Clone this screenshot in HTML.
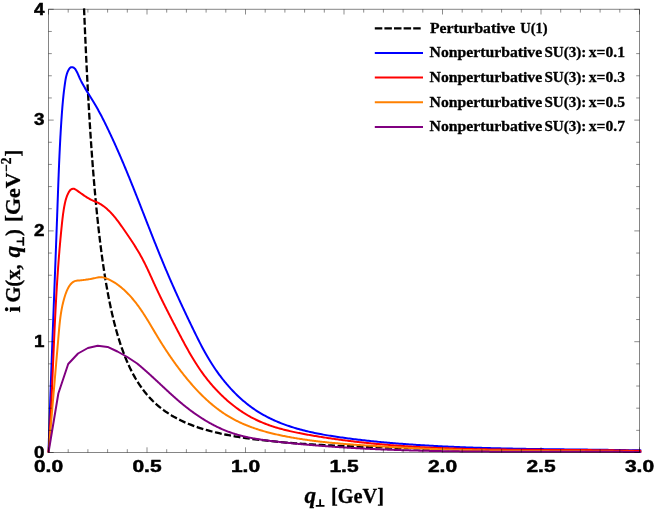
<!DOCTYPE html>
<html lang="en">
<head>
<meta charset="utf-8">
<title>i G(x, q⊥) plot</title>
<style>
html,body{margin:0;padding:0;background:#fff;}
body{width:654px;height:510px;overflow:hidden;}
svg{display:block;will-change:transform;}
text{fill:#000;}
.tick{font-family:"Liberation Sans",sans-serif;font-weight:bold;font-size:17.3px;stroke:#000;stroke-width:0.5px;stroke-linejoin:round;}
.leg{font-family:"Liberation Serif",serif;font-weight:bold;font-size:15px;stroke:#000;stroke-width:0.3px;}
.ax{font-family:"Liberation Serif",serif;font-weight:bold;font-size:20.6px;stroke:#000;stroke-width:0.3px;}
.it{font-style:italic;font-size:23.2px;}
.sup{font-size:14.5px;}
</style>
</head>
<body>
<svg width="654" height="510" viewBox="0 0 654 510" role="img" aria-label="Plot of i G(x, q⊥) versus q⊥">
<rect x="0" y="0" width="654" height="510" fill="#fff"/>
<g fill="none" stroke-linejoin="round" stroke-linecap="butt">
<path d="M84.05,8.40 L84.32,15.23 L84.60,21.90 L84.88,28.42 L85.15,34.79 L85.43,41.02 L85.71,47.11 L85.98,53.07 L86.26,58.90 L86.53,64.60 L86.81,70.18 L87.09,75.63 L87.36,80.98 L87.64,86.20 L87.92,91.32 L88.19,96.34 L88.47,101.25 L88.75,106.06 L89.02,110.77 L89.30,115.38 L89.58,119.90 L89.85,124.34 L90.13,128.68 L90.40,132.94 L90.68,137.11 L90.96,141.21 L91.23,145.22 L91.51,149.16 L91.79,153.02 L92.06,156.81 L92.34,160.53 L92.62,164.17 L92.89,167.75 L93.17,171.27 L93.45,174.71 L93.72,178.10 L94.00,181.42 L94.27,184.69 L94.55,187.89 L94.83,191.04 L95.10,194.13 L95.38,197.17 L95.66,200.16 L95.93,203.09 L96.21,205.97 L96.49,208.80 L96.76,211.59 L97.04,214.32 L97.32,217.01 L97.59,219.66 L97.87,222.26 L98.14,224.82 L98.42,227.33 L98.70,229.80 L98.97,232.24 L99.25,234.63 L99.53,236.98 L99.80,239.30 L100.08,241.58 L100.36,243.82 L100.63,246.03 L100.91,248.20 L101.19,250.34 L101.46,252.44 L101.74,254.52 L102.01,256.56 L102.29,258.56 L102.57,260.54 L102.84,262.49 L103.12,264.41 L103.40,266.30 L103.67,268.16 L103.95,269.99 L104.23,271.80 L104.50,273.58 L104.78,275.33 L105.06,277.06 L105.33,278.76 L105.61,280.44 L105.88,282.09 L106.16,283.72 L106.44,285.33 L106.71,286.91 L106.99,288.48 L107.27,290.01 L107.54,291.53 L107.82,293.03 L108.10,294.51 L108.37,295.96 L108.65,297.40 L108.93,298.81 L109.20,300.21 L109.48,301.59 L109.76,302.95 L110.03,304.29 L110.31,305.61 L110.58,306.91 L110.86,308.20 L111.14,309.47 L111.41,310.73 L111.69,311.96 L111.97,313.19 L112.24,314.39 L112.52,315.58 L112.80,316.76 L113.07,317.92 L113.35,319.06 L113.63,320.19 L113.90,321.31 L114.18,322.41 L114.45,323.50 L114.73,324.57 L115.01,325.63 L115.28,326.68 L115.56,327.72 L115.84,328.74 L116.11,329.75 L116.39,330.75 L116.67,331.73 L116.94,332.71 L117.22,333.67 L117.50,334.62 L117.77,335.56 L118.05,336.49 L118.32,337.40 L118.60,338.31 L118.88,339.20 L119.15,340.09 L119.43,340.96 L119.71,341.83 L119.98,342.68 L120.26,343.53 L120.54,344.36 L120.81,345.19 L121.09,346.00 L121.37,346.81 L121.64,347.61 L121.92,348.39 L122.19,349.17 L122.47,349.94 L122.75,350.71 L123.02,351.46 L123.30,352.21 L123.58,352.94 L123.85,353.67 L124.13,354.39 L124.41,355.11 L124.68,355.81 L124.96,356.51 L125.24,357.20 L125.51,357.88 L125.79,358.56 L126.06,359.23 L126.34,359.89 L126.62,360.54 L126.89,361.19 L127.17,361.83 L127.45,362.46 L127.72,363.09 L128.00,363.71 L128.28,364.33 L128.55,364.93 L128.83,365.54 L129.11,366.13 L129.38,366.72 L129.66,367.30 L129.93,367.88 L130.21,368.45 L130.49,369.02 L130.76,369.58 L131.04,370.13 L131.32,370.68 L131.59,371.23 L131.87,371.76 L132.15,372.30 L132.42,372.82 L132.70,373.35 L132.98,373.86 L133.25,374.38 L133.53,374.88 L133.80,375.39 L134.08,375.88 L134.36,376.38 L134.63,376.86 L134.91,377.35 L135.19,377.82 L135.46,378.30 L135.74,378.77 L136.02,379.23 L136.29,379.69 L136.57,380.15 L136.85,380.60 L137.12,381.05 L137.40,381.49 L137.67,381.93 L137.95,382.37 L138.23,382.80 L138.50,383.23 L138.78,383.65 L139.06,384.07 L139.33,384.49 L139.61,384.90 L139.89,385.31 L140.16,385.71 L140.44,386.11 L140.72,386.51 L140.99,386.90 L141.27,387.29 L141.54,387.68 L141.82,388.06 L142.10,388.44 L142.37,388.82 L142.65,389.19 L142.93,389.57 L143.20,389.93 L143.48,390.30 L143.76,390.66 L144.03,391.01 L144.31,391.37 L144.59,391.72 L144.86,392.07 L145.14,392.41 L145.41,392.75 L145.69,393.09 L145.97,393.43 L146.24,393.76 L146.52,394.10 L146.80,394.42 L147.07,394.75 L147.35,395.07 L147.63,395.39 L147.90,395.71 L148.18,396.02 L148.46,396.33 L148.73,396.64 L149.01,396.95 L149.28,397.26 L149.56,397.56 L149.84,397.86 L150.11,398.15 L150.39,398.45 L150.67,398.74 L150.94,399.03 L151.22,399.32 L151.50,399.60 L151.77,399.88 L152.05,400.17 L152.33,400.44 L152.60,400.72 L152.88,400.99 L153.15,401.27 L153.43,401.53 L153.71,401.80 L153.98,402.07 L154.26,402.33 L154.54,402.59 L154.81,402.85 L155.09,403.11 L155.37,403.36 L155.64,403.62 L155.92,403.87 L156.20,404.12 L156.47,404.37 L156.75,404.61 L157.02,404.85 L157.30,405.10 L157.58,405.34 L157.85,405.57 L158.13,405.81 L158.41,406.05 L158.68,406.28 L158.96,406.51 L159.24,406.74 L159.51,406.97 L159.79,407.19 L160.07,407.42 L160.34,407.64 L160.62,407.86 L160.89,408.08 L161.17,408.30 L161.45,408.51 L161.72,408.73 L162.00,408.94 L162.28,409.15 L162.55,409.36 L162.83,409.57 L163.11,409.78 L163.38,409.98 L163.66,410.19 L163.94,410.39 L164.21,410.59 L164.49,410.79 L164.76,410.99 L165.04,411.18 L165.32,411.38 L165.59,411.57 L165.87,411.77 L166.15,411.96 L166.42,412.15 L166.70,412.33 L169.08,413.91 L171.47,415.39 L173.85,416.79 L176.24,418.11 L178.62,419.36 L181.01,420.54 L183.39,421.66 L185.78,422.72 L188.16,423.73 L190.55,424.69 L192.93,425.60 L195.32,426.47 L197.70,427.29 L200.09,428.08 L202.47,428.83 L204.86,429.55 L207.24,430.23 L209.63,430.89 L212.01,431.51 L214.40,432.11 L216.78,432.68 L219.17,433.23 L221.55,433.76 L223.94,434.27 L226.32,434.75 L228.71,435.22 L231.09,435.67 L233.48,436.10 L235.86,436.51 L238.25,436.91 L240.63,437.30 L243.02,437.67 L245.40,438.03 L247.79,438.37 L250.17,438.70 L252.56,439.02 L254.94,439.33 L257.33,439.63 L259.71,439.92 L262.10,440.20 L264.48,440.47 L266.87,440.73 L269.25,440.98 L271.64,441.23 L274.02,441.47 L276.41,441.70 L278.79,441.92 L281.18,442.13 L283.56,442.34 L285.95,442.55 L288.33,442.74 L290.72,442.94 L293.10,443.12 L295.49,443.30 L297.87,443.48 L300.26,443.65 L302.64,443.81 L305.03,443.97 L307.41,444.13 L309.80,444.28 L312.18,444.43 L314.57,444.57 L316.95,444.71 L319.34,444.85 L321.72,444.98 L324.11,445.11 L326.49,445.24 L328.87,445.36 L331.26,445.48 L333.64,445.60 L336.03,445.71 L338.41,445.82 L340.80,445.93 L343.18,446.04 L345.57,446.14 L347.95,446.24 L350.34,446.34 L352.72,446.44 L355.11,446.53 L357.49,446.62 L359.88,446.71 L362.26,446.80 L364.65,446.89 L367.03,446.97 L369.42,447.05 L371.80,447.13 L374.19,447.21 L376.57,447.29 L378.96,447.36 L381.34,447.43 L383.73,447.51 L386.11,447.58 L388.50,447.65 L390.88,447.71 L393.27,447.78 L395.65,447.84 L398.04,447.91 L400.42,447.97 L402.81,448.03 L405.19,448.09 L407.58,448.15 L409.96,448.21 L412.35,448.26 L414.73,448.32 L417.12,448.37 L419.50,448.42 L421.89,448.48 L424.27,448.53 L426.66,448.58 L429.04,448.62 L431.43,448.67 L433.81,448.72 L436.20,448.77 L438.58,448.81 L440.97,448.86 L443.35,448.90 L445.74,448.94 L448.12,448.99 L450.51,449.03 L452.89,449.07 L455.28,449.11 L457.66,449.15 L460.05,449.19 L462.43,449.22 L464.82,449.26 L467.20,449.30 L469.59,449.34 L471.97,449.37 L474.36,449.41 L476.74,449.44 L479.13,449.47 L481.51,449.51 L483.89,449.54 L486.28,449.57 L488.66,449.60 L491.05,449.63 L493.43,449.67 L495.82,449.70 L498.20,449.73 L500.59,449.75 L502.97,449.78 L505.36,449.81 L507.74,449.84 L510.13,449.87 L512.51,449.89 L514.90,449.92 L517.28,449.95 L519.67,449.97 L522.05,450.00 L524.44,450.02 L526.82,450.05 L529.21,450.07 L531.59,450.10 L533.98,450.12 L536.36,450.14 L538.75,450.17 L541.13,450.19 L543.52,450.21 L545.90,450.23 L548.29,450.25 L550.67,450.27 L553.06,450.30 L555.44,450.32 L557.83,450.34 L560.21,450.36 L562.60,450.38 L564.98,450.40 L567.37,450.42 L569.75,450.43 L572.14,450.45 L574.52,450.47 L576.91,450.49 L579.29,450.51 L581.68,450.53 L584.06,450.54 L586.45,450.56 L588.83,450.58 L591.22,450.59 L593.60,450.61 L595.99,450.63 L598.37,450.64 L600.76,450.66 L603.14,450.68 L605.53,450.69 L607.91,450.71 L610.30,450.72 L612.68,450.74 L615.07,450.75 L617.45,450.77 L619.84,450.78 L622.22,450.80 L624.61,450.81 L626.99,450.82 L629.38,450.84 L631.76,450.85 L634.15,450.86 L636.53,450.88 L638.92,450.89 L641.30,450.90" stroke="#000" stroke-width="2.3" stroke-dasharray="6.9 2.6"/>
<path d="M48.50,452.50 L48.55,451.04 L48.59,449.57 L48.64,448.11 L48.68,446.64 L48.73,445.18 L48.78,443.71 L48.82,442.25 L48.87,440.78 L48.92,439.32 L48.97,437.85 L49.01,436.38 L49.06,434.92 L49.11,433.45 L49.16,431.99 L49.21,430.52 L49.26,429.06 L49.30,427.59 L49.35,426.12 L49.40,424.66 L49.45,423.19 L49.50,421.72 L49.55,420.26 L49.60,418.79 L49.65,417.32 L49.70,415.86 L49.75,414.39 L49.80,412.92 L49.85,411.46 L49.90,409.99 L49.95,408.52 L50.00,407.06 L50.06,405.59 L50.11,404.12 L50.16,402.66 L50.21,401.19 L50.26,399.72 L50.31,398.25 L50.36,396.79 L50.42,395.32 L50.47,393.85 L50.52,392.38 L50.57,390.92 L50.63,389.45 L50.68,387.98 L50.73,386.51 L50.78,385.04 L50.84,383.58 L50.89,382.11 L50.94,380.64 L51.00,379.17 L51.05,377.70 L51.10,376.24 L51.16,374.77 L51.21,373.30 L51.27,371.83 L51.32,370.36 L51.37,368.89 L51.43,367.43 L51.48,365.96 L51.54,364.49 L51.59,363.02 L51.64,361.55 L51.70,360.08 L51.75,358.61 L51.81,357.15 L51.86,355.68 L51.92,354.21 L51.97,352.74 L52.03,351.27 L52.08,349.80 L52.14,348.33 L52.19,346.87 L52.25,345.40 L52.30,343.93 L52.36,342.46 L52.41,340.99 L52.47,339.52 L52.53,338.05 L52.58,336.58 L52.64,335.12 L52.69,333.65 L52.75,332.18 L52.80,330.71 L52.86,329.24 L52.92,327.77 L52.97,326.30 L53.03,324.83 L53.08,323.37 L53.14,321.90 L53.20,320.43 L53.25,318.96 L53.31,317.49 L53.36,316.02 L53.42,314.55 L53.48,313.08 L53.53,311.61 L53.59,310.15 L53.64,308.68 L53.70,307.21 L53.76,305.74 L53.81,304.27 L53.87,302.80 L53.93,301.33 L53.98,299.87 L54.04,298.40 L54.09,296.93 L54.15,295.46 L54.21,293.99 L54.26,292.52 L54.32,291.05 L54.38,289.59 L54.43,288.12 L54.49,286.65 L54.54,285.18 L54.60,283.71 L54.66,282.24 L54.71,280.78 L54.77,279.31 L54.83,277.84 L54.88,276.37 L54.94,274.90 L54.99,273.43 L55.05,271.97 L55.11,270.50 L55.16,269.03 L55.22,267.56 L55.27,266.10 L55.33,264.63 L55.39,263.16 L55.44,261.69 L55.50,260.22 L55.55,258.76 L55.61,257.29 L55.66,255.82 L55.72,254.35 L55.77,252.89 L55.83,251.42 L55.89,249.95 L55.94,248.49 L56.00,247.02 L56.05,245.55 L56.11,244.08 L56.16,242.62 L56.22,241.15 L56.27,239.68 L56.33,238.22 L56.38,236.75 L56.43,235.28 L56.49,233.82 L56.54,232.35 L56.60,230.88 L56.65,229.42 L56.71,227.95 L56.76,226.49 L56.82,225.02 L56.87,223.55 L56.92,222.09 L56.98,220.62 L57.03,219.16 L57.08,217.69 L57.14,216.23 L57.19,214.76 L57.24,213.29 L57.30,211.83 L57.35,210.36 L57.40,208.90 L57.46,207.43 L57.51,205.97 L57.56,204.50 L57.61,203.04 L57.67,201.58 L57.72,200.11 L57.77,198.65 L57.82,197.18 L57.88,195.72 L57.93,194.25 L57.98,192.79 L58.03,191.33 L58.09,189.86 L58.14,188.40 L58.19,186.93 L58.25,185.47 L58.30,184.01 L58.36,182.54 L58.41,181.08 L58.47,179.61 L58.52,178.15 L58.58,176.69 L58.64,175.22 L58.69,173.76 L58.75,172.30 L58.81,170.83 L58.87,169.37 L58.93,167.91 L58.99,166.44 L59.05,164.98 L59.11,163.51 L59.17,162.05 L59.24,160.59 L59.30,159.12 L59.37,157.66 L59.43,156.20 L59.50,154.73 L59.57,153.27 L59.64,151.81 L59.71,150.34 L59.78,148.88 L59.85,147.41 L59.92,145.95 L60.00,144.49 L60.07,143.02 L60.15,141.56 L60.22,140.09 L60.30,138.63 L60.38,137.17 L60.46,135.70 L60.55,134.24 L60.63,132.77 L60.72,131.31 L60.80,129.84 L60.89,128.38 L60.98,126.91 L61.07,125.45 L61.17,123.98 L61.26,122.52 L61.36,121.05 L61.45,119.59 L61.55,118.12 L61.66,116.66 L61.76,115.19 L61.86,113.73 L61.97,112.26 L62.08,110.79 L62.20,109.33 L62.31,107.86 L62.43,106.40 L62.56,104.93 L62.68,103.46 L62.82,101.99 L62.95,100.53 L63.09,99.06 L63.24,97.59 L63.39,96.13 L63.55,94.66 L63.71,93.19 L63.88,91.72 L64.06,90.25 L64.24,88.78 L64.43,87.32 L64.63,85.85 L64.83,84.38 L65.05,82.91 L65.27,81.44 L65.50,79.97 L65.76,78.51 L66.06,77.07 L66.40,75.63 L66.79,74.22 L67.25,72.83 L67.79,71.47 L68.41,70.14 L69.14,68.89 L70.02,67.86 L71.10,67.23 L72.44,67.19 L73.83,67.73 L74.94,68.69 L75.79,69.89 L76.53,71.18 L77.21,72.51 L77.84,73.87 L78.44,75.24 L79.03,76.61 L79.63,77.98 L80.26,79.33 L80.90,80.66 L81.57,81.97 L82.25,83.28 L82.95,84.57 L83.66,85.84 L84.39,87.11 L85.13,88.37 L85.88,89.62 L86.63,90.87 L87.40,92.11 L88.17,93.34 L88.94,94.58 L89.71,95.81 L90.49,97.04 L91.26,98.28 L92.03,99.51 L92.80,100.75 L93.56,102.00 L94.31,103.25 L95.06,104.51 L95.80,105.78 L96.53,107.05 L97.25,108.33 L97.97,109.61 L98.68,110.90 L99.38,112.19 L100.08,113.49 L100.77,114.79 L101.46,116.09 L102.14,117.40 L102.81,118.72 L103.48,120.03 L104.15,121.35 L104.81,122.67 L105.46,124.00 L106.11,125.33 L106.76,126.65 L107.40,127.98 L108.04,129.31 L108.68,130.65 L109.31,131.98 L109.94,133.31 L110.57,134.65 L111.19,135.98 L111.81,137.32 L112.43,138.66 L113.05,139.99 L113.66,141.33 L114.27,142.67 L114.87,144.01 L115.48,145.35 L116.08,146.70 L116.68,148.04 L117.27,149.38 L117.86,150.73 L118.46,152.07 L119.04,153.42 L119.63,154.76 L120.21,156.11 L120.79,157.45 L121.37,158.80 L121.95,160.15 L122.52,161.50 L123.10,162.85 L123.67,164.20 L124.24,165.55 L124.80,166.90 L125.37,168.25 L125.93,169.61 L126.49,170.96 L127.05,172.31 L127.61,173.67 L128.16,175.02 L128.72,176.38 L129.27,177.73 L129.82,179.09 L130.37,180.45 L130.92,181.80 L131.47,183.16 L132.02,184.52 L132.56,185.88 L133.11,187.23 L133.65,188.59 L134.19,189.95 L134.73,191.31 L135.28,192.67 L135.81,194.03 L136.35,195.39 L136.89,196.75 L137.43,198.12 L137.96,199.48 L138.50,200.84 L139.04,202.20 L139.57,203.56 L140.11,204.93 L140.64,206.29 L141.17,207.65 L141.71,209.02 L142.24,210.38 L142.77,211.74 L143.31,213.11 L143.84,214.47 L144.37,215.83 L144.90,217.20 L145.44,218.56 L145.97,219.93 L146.50,221.29 L147.04,222.66 L147.57,224.02 L148.11,225.38 L148.64,226.75 L149.17,228.11 L149.71,229.48 L150.25,230.84 L150.78,232.21 L151.32,233.57 L151.86,234.94 L152.40,236.30 L152.94,237.67 L153.48,239.03 L154.02,240.40 L154.56,241.76 L155.10,243.13 L155.65,244.49 L156.19,245.85 L156.74,247.22 L157.29,248.58 L157.84,249.95 L158.39,251.31 L158.94,252.67 L159.49,254.04 L160.05,255.40 L160.60,256.76 L161.16,258.12 L161.72,259.49 L162.28,260.85 L162.85,262.21 L163.41,263.57 L163.98,264.93 L164.55,266.29 L165.12,267.65 L165.69,269.02 L166.27,270.38 L166.84,271.73 L167.42,273.09 L168.00,274.45 L168.59,275.81 L169.17,277.17 L169.76,278.53 L170.35,279.88 L170.94,281.24 L171.53,282.60 L172.13,283.95 L172.73,285.31 L173.33,286.66 L173.93,288.01 L174.53,289.37 L175.14,290.72 L175.74,292.07 L176.35,293.42 L176.96,294.77 L177.57,296.11 L178.18,297.46 L178.80,298.81 L179.41,300.15 L180.03,301.49 L180.65,302.84 L181.27,304.18 L181.89,305.52 L182.51,306.86 L183.14,308.19 L183.76,309.53 L184.39,310.86 L185.01,312.19 L185.64,313.53 L186.27,314.86 L186.90,316.18 L187.53,317.51 L188.16,318.83 L188.79,320.16 L189.42,321.48 L190.06,322.80 L190.69,324.12 L191.33,325.43 L191.96,326.75 L192.60,328.06 L193.24,329.37 L193.87,330.67 L194.51,331.98 L195.15,333.28 L195.79,334.59 L196.43,335.88 L197.07,337.18 L197.71,338.48 L198.36,339.77 L199.01,341.06 L199.66,342.35 L200.32,343.63 L200.98,344.91 L201.65,346.19 L202.32,347.47 L203.00,348.75 L203.68,350.02 L204.38,351.29 L205.08,352.56 L205.78,353.82 L206.50,355.08 L207.22,356.34 L207.96,357.60 L208.70,358.85 L209.46,360.10 L210.22,361.35 L211.00,362.59 L211.78,363.83 L212.58,365.07 L213.39,366.30 L214.20,367.53 L215.03,368.75 L215.87,369.97 L216.72,371.18 L217.58,372.39 L218.45,373.59 L219.33,374.79 L220.22,375.97 L221.12,377.16 L222.03,378.33 L222.95,379.50 L223.88,380.66 L224.82,381.81 L225.77,382.96 L226.73,384.09 L227.70,385.22 L228.68,386.34 L229.67,387.45 L230.67,388.55 L231.67,389.64 L232.69,390.72 L233.72,391.78 L234.76,392.84 L235.80,393.89 L236.86,394.93 L237.93,395.95 L239.00,396.96 L240.09,397.97 L241.18,398.95 L242.28,399.93 L243.40,400.89 L244.52,401.84 L245.65,402.78 L246.79,403.70 L247.94,404.61 L249.09,405.50 L250.26,406.38 L251.44,407.25 L252.62,408.10 L253.81,408.93 L255.01,409.75 L256.23,410.55 L257.44,411.34 L258.67,412.11 L259.91,412.87 L261.15,413.61 L262.40,414.34 L263.66,415.05 L264.93,415.74 L266.20,416.43 L267.49,417.10 L268.78,417.75 L270.07,418.39 L271.38,419.02 L272.69,419.64 L274.00,420.24 L275.33,420.83 L276.66,421.41 L277.99,421.97 L279.34,422.52 L280.68,423.06 L282.04,423.59 L283.40,424.10 L284.76,424.61 L286.14,425.10 L287.51,425.58 L288.89,426.06 L290.28,426.52 L291.67,426.97 L293.07,427.41 L294.47,427.84 L295.87,428.26 L297.28,428.67 L298.69,429.07 L300.11,429.46 L301.53,429.84 L302.96,430.21 L304.38,430.58 L305.82,430.93 L307.25,431.28 L308.69,431.62 L310.13,431.95 L311.57,432.27 L313.02,432.59 L314.47,432.90 L315.92,433.20 L317.38,433.49 L318.83,433.78 L320.29,434.06 L321.75,434.34 L323.21,434.61 L324.68,434.87 L326.14,435.12 L327.61,435.37 L329.08,435.62 L330.54,435.86 L332.01,436.09 L333.48,436.32 L334.95,436.55 L336.42,436.77 L337.90,436.99 L339.37,437.20 L340.84,437.41 L342.31,437.61 L343.78,437.82 L345.25,438.01 L346.72,438.21 L348.19,438.40 L349.66,438.59 L351.13,438.78 L352.59,438.96 L354.06,439.14 L355.53,439.32 L356.99,439.50 L358.45,439.67 L359.92,439.85 L361.38,440.02 L362.84,440.18 L364.30,440.35 L365.76,440.51 L367.22,440.67 L368.68,440.83 L370.14,440.98 L371.60,441.13 L373.06,441.29 L374.52,441.43 L375.97,441.58 L377.43,441.72 L378.89,441.87 L380.34,442.01 L381.80,442.14 L383.26,442.28 L384.71,442.41 L386.17,442.55 L387.62,442.68 L389.08,442.80 L390.53,442.93 L391.99,443.05 L393.44,443.18 L394.90,443.30 L396.35,443.42 L397.81,443.53 L399.26,443.65 L400.72,443.76 L402.17,443.87 L403.63,443.98 L405.08,444.09 L406.54,444.20 L407.99,444.30 L409.45,444.40 L410.90,444.51 L412.36,444.61 L413.82,444.70 L415.27,444.80 L416.73,444.90 L418.19,444.99 L419.65,445.08 L421.11,445.18 L422.57,445.27 L424.03,445.35 L425.49,445.44 L426.95,445.53 L428.41,445.61 L429.87,445.70 L431.33,445.78 L432.79,445.86 L434.25,445.94 L435.71,446.01 L437.18,446.09 L438.64,446.17 L440.10,446.24 L441.56,446.31 L443.03,446.38 L444.49,446.46 L445.96,446.52 L447.42,446.59 L448.89,446.66 L450.35,446.73 L451.82,446.79 L453.28,446.85 L454.75,446.92 L456.21,446.98 L457.68,447.04 L459.15,447.10 L460.61,447.15 L462.08,447.21 L463.55,447.27 L465.01,447.32 L466.48,447.38 L467.95,447.43 L469.42,447.48 L470.89,447.53 L472.35,447.58 L473.82,447.63 L475.29,447.68 L476.76,447.72 L478.23,447.77 L479.70,447.82 L481.17,447.86 L482.64,447.90 L484.11,447.95 L485.58,447.99 L487.05,448.03 L488.52,448.07 L489.99,448.11 L491.46,448.15 L492.93,448.19 L494.40,448.22 L495.87,448.26 L497.34,448.30 L498.81,448.33 L500.29,448.36 L501.76,448.40 L503.23,448.43 L504.70,448.46 L506.17,448.49 L507.64,448.53 L509.12,448.56 L510.59,448.59 L512.06,448.61 L513.53,448.64 L515.00,448.67 L516.48,448.70 L517.95,448.73 L519.42,448.75 L520.89,448.78 L522.37,448.80 L523.84,448.83 L525.31,448.85 L526.78,448.88 L528.25,448.90 L529.73,448.92 L531.20,448.94 L532.67,448.97 L534.14,448.99 L535.62,449.01 L537.09,449.03 L538.56,449.05 L540.03,449.07 L541.51,449.09 L542.98,449.11 L544.45,449.13 L545.92,449.15 L547.40,449.17 L548.87,449.19 L550.34,449.21 L551.81,449.22 L553.28,449.24 L554.76,449.26 L556.23,449.28 L557.70,449.29 L559.17,449.31 L560.64,449.33 L562.11,449.34 L563.59,449.36 L565.06,449.38 L566.53,449.39 L568.00,449.41 L569.47,449.43 L570.94,449.44 L572.41,449.46 L573.88,449.47 L575.35,449.49 L576.82,449.51 L578.29,449.52 L579.76,449.54 L581.23,449.55 L582.70,449.57 L584.17,449.59 L585.64,449.60 L587.11,449.62 L588.58,449.63 L590.05,449.65 L591.52,449.67 L592.98,449.68 L594.45,449.70 L595.92,449.72 L597.39,449.74 L598.86,449.75 L600.32,449.77 L601.79,449.79 L603.26,449.81 L604.72,449.82 L606.19,449.84 L607.66,449.86 L609.12,449.88 L610.59,449.90 L612.05,449.92 L613.52,449.94 L614.98,449.96 L616.45,449.98 L617.91,450.00 L619.38,450.02 L620.84,450.05 L622.30,450.07 L623.77,450.09 L625.23,450.11 L626.69,450.14 L628.15,450.16 L629.62,450.19 L631.08,450.21 L632.54,450.24 L634.00,450.26 L635.46,450.29 L636.92,450.32 L638.38,450.34 L639.84,450.37 L641.30,450.40" stroke="#0000ff" stroke-width="2.0"/>
<path d="M48.50,452.50 L48.58,451.30 L48.66,450.11 L48.74,448.91 L48.82,447.72 L48.90,446.52 L48.98,445.32 L49.05,444.13 L49.13,442.93 L49.20,441.73 L49.28,440.54 L49.35,439.34 L49.42,438.14 L49.50,436.95 L49.57,435.75 L49.64,434.55 L49.71,433.36 L49.78,432.16 L49.85,430.96 L49.92,429.76 L49.98,428.57 L50.05,427.37 L50.12,426.17 L50.18,424.98 L50.25,423.78 L50.31,422.58 L50.38,421.38 L50.44,420.19 L50.51,418.99 L50.57,417.79 L50.63,416.60 L50.69,415.40 L50.76,414.20 L50.82,413.00 L50.88,411.81 L50.94,410.61 L51.00,409.41 L51.06,408.21 L51.12,407.02 L51.17,405.82 L51.23,404.62 L51.29,403.42 L51.35,402.22 L51.40,401.03 L51.46,399.83 L51.52,398.63 L51.57,397.43 L51.63,396.24 L51.68,395.04 L51.74,393.84 L51.79,392.64 L51.85,391.44 L51.90,390.25 L51.96,389.05 L52.01,387.85 L52.06,386.65 L52.12,385.45 L52.17,384.26 L52.22,383.06 L52.28,381.86 L52.33,380.66 L52.38,379.46 L52.43,378.27 L52.49,377.07 L52.54,375.87 L52.59,374.67 L52.64,373.47 L52.69,372.28 L52.75,371.08 L52.80,369.88 L52.85,368.68 L52.90,367.48 L52.95,366.29 L53.00,365.09 L53.06,363.89 L53.11,362.69 L53.16,361.49 L53.21,360.29 L53.26,359.10 L53.31,357.90 L53.36,356.70 L53.42,355.50 L53.47,354.30 L53.52,353.11 L53.57,351.91 L53.62,350.71 L53.68,349.51 L53.73,348.31 L53.78,347.12 L53.83,345.92 L53.88,344.72 L53.94,343.52 L53.99,342.32 L54.04,341.13 L54.10,339.93 L54.15,338.73 L54.20,337.53 L54.26,336.33 L54.31,335.14 L54.37,333.94 L54.42,332.74 L54.48,331.54 L54.53,330.35 L54.59,329.15 L54.64,327.95 L54.70,326.75 L54.76,325.55 L54.81,324.36 L54.87,323.16 L54.93,321.96 L54.99,320.76 L55.05,319.57 L55.10,318.37 L55.16,317.17 L55.22,315.97 L55.28,314.78 L55.34,313.58 L55.41,312.38 L55.47,311.18 L55.53,309.99 L55.59,308.79 L55.65,307.59 L55.72,306.40 L55.78,305.20 L55.85,304.00 L55.91,302.80 L55.98,301.61 L56.04,300.41 L56.11,299.21 L56.18,298.02 L56.24,296.82 L56.31,295.62 L56.38,294.42 L56.45,293.23 L56.52,292.03 L56.59,290.83 L56.66,289.64 L56.74,288.44 L56.81,287.24 L56.88,286.05 L56.96,284.85 L57.03,283.66 L57.11,282.46 L57.18,281.26 L57.26,280.07 L57.34,278.87 L57.42,277.67 L57.50,276.48 L57.58,275.28 L57.66,274.09 L57.74,272.89 L57.82,271.69 L57.91,270.50 L57.99,269.30 L58.08,268.11 L58.16,266.91 L58.25,265.71 L58.34,264.52 L58.43,263.32 L58.51,262.13 L58.61,260.93 L58.70,259.74 L58.79,258.54 L58.88,257.35 L58.98,256.15 L59.07,254.96 L59.17,253.76 L59.27,252.57 L59.36,251.37 L59.46,250.18 L59.56,248.98 L59.66,247.79 L59.77,246.59 L59.87,245.40 L59.98,244.21 L60.08,243.01 L60.19,241.82 L60.30,240.62 L60.40,239.43 L60.51,238.23 L60.62,237.04 L60.74,235.85 L60.85,234.65 L60.97,233.46 L61.08,232.27 L61.20,231.07 L61.32,229.88 L61.44,228.68 L61.56,227.49 L61.68,226.30 L61.80,225.11 L61.93,223.91 L62.05,222.72 L62.18,221.53 L62.31,220.33 L62.45,219.14 L62.59,217.95 L62.73,216.76 L62.88,215.57 L63.04,214.39 L63.20,213.20 L63.37,212.02 L63.54,210.83 L63.73,209.65 L63.92,208.47 L64.13,207.29 L64.34,206.12 L64.57,204.94 L64.80,203.77 L65.05,202.60 L65.32,201.44 L65.62,200.28 L65.94,199.12 L66.29,197.97 L66.68,196.83 L67.11,195.69 L67.59,194.57 L68.11,193.46 L68.69,192.38 L69.32,191.32 L70.04,190.34 L70.91,189.51 L71.96,188.93 L73.12,188.68 L74.23,188.84 L75.26,189.34 L76.25,189.99 L77.24,190.67 L78.22,191.36 L79.21,192.06 L80.19,192.76 L81.18,193.47 L82.17,194.17 L83.17,194.87 L84.17,195.56 L85.17,196.23 L86.18,196.89 L87.20,197.53 L88.23,198.15 L89.26,198.74 L90.31,199.29 L91.37,199.82 L92.44,200.31 L93.51,200.79 L94.59,201.25 L95.68,201.72 L96.76,202.20 L97.83,202.70 L98.90,203.23 L99.96,203.81 L101.00,204.44 L102.03,205.11 L103.04,205.82 L104.03,206.56 L104.99,207.31 L105.93,208.07 L106.85,208.86 L107.74,209.66 L108.62,210.48 L109.48,211.31 L110.32,212.15 L111.14,213.01 L111.95,213.88 L112.74,214.76 L113.52,215.66 L114.28,216.56 L115.04,217.48 L115.78,218.40 L116.51,219.33 L117.24,220.28 L117.96,221.22 L118.67,222.18 L119.37,223.14 L120.07,224.11 L120.77,225.08 L121.46,226.06 L122.15,227.03 L122.84,228.02 L123.53,229.00 L124.22,229.99 L124.91,230.98 L125.60,231.97 L126.29,232.96 L126.97,233.96 L127.66,234.96 L128.34,235.96 L129.02,236.97 L129.69,237.97 L130.37,238.98 L131.04,239.99 L131.70,241.01 L132.37,242.02 L133.02,243.04 L133.68,244.06 L134.33,245.08 L134.98,246.11 L135.62,247.13 L136.25,248.16 L136.88,249.19 L137.51,250.22 L138.12,251.26 L138.74,252.29 L139.34,253.33 L139.94,254.37 L140.53,255.42 L141.12,256.46 L141.69,257.51 L142.26,258.56 L142.82,259.61 L143.38,260.66 L143.92,261.71 L144.46,262.77 L144.99,263.83 L145.51,264.89 L146.03,265.95 L146.54,267.01 L147.05,268.07 L147.55,269.14 L148.05,270.20 L148.54,271.27 L149.03,272.34 L149.52,273.41 L150.01,274.48 L150.50,275.56 L150.99,276.63 L151.47,277.71 L151.96,278.78 L152.44,279.86 L152.93,280.94 L153.42,282.02 L153.91,283.10 L154.41,284.18 L154.91,285.26 L155.41,286.34 L155.91,287.42 L156.42,288.51 L156.93,289.59 L157.44,290.68 L157.96,291.76 L158.47,292.84 L158.99,293.93 L159.52,295.02 L160.04,296.10 L160.57,297.19 L161.10,298.27 L161.63,299.36 L162.16,300.45 L162.70,301.53 L163.24,302.62 L163.77,303.71 L164.31,304.79 L164.86,305.88 L165.40,306.96 L165.95,308.05 L166.49,309.13 L167.04,310.22 L167.59,311.30 L168.14,312.39 L168.69,313.47 L169.24,314.55 L169.80,315.63 L170.35,316.71 L170.91,317.79 L171.46,318.87 L172.02,319.95 L172.58,321.03 L173.13,322.11 L173.69,323.18 L174.25,324.26 L174.81,325.33 L175.36,326.40 L175.92,327.47 L176.48,328.54 L177.04,329.61 L177.60,330.68 L178.15,331.74 L178.71,332.81 L179.27,333.87 L179.83,334.93 L180.38,335.99 L180.94,337.05 L181.50,338.11 L182.06,339.16 L182.62,340.22 L183.18,341.27 L183.74,342.32 L184.31,343.36 L184.87,344.41 L185.44,345.45 L186.01,346.49 L186.58,347.53 L187.16,348.57 L187.73,349.60 L188.31,350.63 L188.90,351.66 L189.48,352.69 L190.07,353.72 L190.66,354.74 L191.26,355.76 L191.86,356.78 L192.47,357.79 L193.08,358.80 L193.69,359.81 L194.31,360.82 L194.93,361.82 L195.56,362.82 L196.20,363.82 L196.84,364.82 L197.48,365.81 L198.14,366.80 L198.79,367.78 L199.46,368.77 L200.13,369.75 L200.80,370.72 L201.49,371.70 L202.18,372.66 L202.88,373.63 L203.58,374.59 L204.30,375.55 L205.02,376.51 L205.74,377.46 L206.48,378.41 L207.22,379.35 L207.97,380.29 L208.73,381.22 L209.50,382.15 L210.27,383.08 L211.05,384.00 L211.84,384.92 L212.63,385.83 L213.43,386.73 L214.24,387.63 L215.05,388.53 L215.88,389.42 L216.70,390.30 L217.54,391.18 L218.38,392.05 L219.23,392.91 L220.09,393.77 L220.95,394.62 L221.82,395.47 L222.69,396.31 L223.58,397.14 L224.47,397.96 L225.36,398.78 L226.26,399.59 L227.17,400.39 L228.08,401.19 L229.00,401.97 L229.93,402.75 L230.86,403.52 L231.80,404.29 L232.74,405.04 L233.69,405.79 L234.65,406.52 L235.61,407.25 L236.58,407.97 L237.55,408.68 L238.53,409.38 L239.52,410.07 L240.51,410.76 L241.50,411.43 L242.51,412.09 L243.51,412.74 L244.52,413.39 L245.54,414.02 L246.57,414.64 L247.59,415.25 L248.63,415.85 L249.67,416.44 L250.71,417.02 L251.76,417.59 L252.81,418.15 L253.87,418.69 L254.94,419.23 L256.01,419.75 L257.08,420.26 L258.16,420.76 L259.24,421.25 L260.33,421.73 L261.42,422.20 L262.52,422.65 L263.62,423.10 L264.72,423.54 L265.83,423.97 L266.94,424.39 L268.06,424.80 L269.17,425.20 L270.30,425.59 L271.42,425.98 L272.55,426.35 L273.69,426.72 L274.82,427.08 L275.96,427.43 L277.10,427.77 L278.25,428.11 L279.40,428.43 L280.55,428.76 L281.70,429.07 L282.86,429.38 L284.02,429.68 L285.18,429.98 L286.34,430.26 L287.50,430.55 L288.67,430.83 L289.84,431.10 L291.01,431.36 L292.18,431.63 L293.35,431.88 L294.53,432.14 L295.71,432.38 L296.88,432.63 L298.06,432.87 L299.24,433.10 L300.43,433.33 L301.61,433.56 L302.79,433.79 L303.97,434.01 L305.16,434.23 L306.34,434.44 L307.53,434.66 L308.71,434.87 L309.90,435.08 L311.09,435.28 L312.27,435.49 L313.46,435.69 L314.64,435.89 L315.83,436.09 L317.02,436.29 L318.20,436.49 L319.39,436.68 L320.58,436.87 L321.77,437.06 L322.95,437.25 L324.14,437.43 L325.33,437.62 L326.52,437.80 L327.70,437.98 L328.89,438.16 L330.08,438.33 L331.27,438.51 L332.46,438.68 L333.65,438.85 L334.83,439.02 L336.02,439.19 L337.21,439.36 L338.40,439.52 L339.59,439.68 L340.78,439.84 L341.97,440.00 L343.16,440.16 L344.35,440.32 L345.54,440.47 L346.73,440.62 L347.92,440.77 L349.11,440.92 L350.30,441.07 L351.49,441.21 L352.68,441.36 L353.87,441.50 L355.06,441.64 L356.26,441.78 L357.45,441.91 L358.64,442.05 L359.83,442.18 L361.02,442.32 L362.21,442.45 L363.40,442.58 L364.60,442.70 L365.79,442.83 L366.98,442.95 L368.17,443.08 L369.37,443.20 L370.56,443.32 L371.75,443.44 L372.94,443.56 L374.14,443.67 L375.33,443.79 L376.52,443.90 L377.71,444.01 L378.91,444.12 L380.10,444.23 L381.29,444.33 L382.49,444.44 L383.68,444.54 L384.88,444.65 L386.07,444.75 L387.26,444.85 L388.46,444.95 L389.65,445.04 L390.85,445.14 L392.04,445.24 L393.23,445.33 L394.43,445.42 L395.62,445.51 L396.82,445.60 L398.01,445.69 L399.21,445.78 L400.40,445.86 L401.60,445.95 L402.79,446.03 L403.99,446.11 L405.18,446.19 L406.38,446.27 L407.57,446.35 L408.77,446.43 L409.96,446.50 L411.16,446.58 L412.36,446.65 L413.55,446.73 L414.75,446.80 L415.94,446.87 L417.14,446.94 L418.34,447.00 L419.53,447.07 L420.73,447.14 L421.93,447.20 L423.12,447.27 L424.32,447.33 L425.51,447.39 L426.71,447.45 L427.91,447.51 L429.10,447.57 L430.30,447.63 L431.50,447.68 L432.70,447.74 L433.89,447.79 L435.09,447.85 L436.29,447.90 L437.48,447.95 L438.68,448.00 L439.88,448.05 L441.08,448.10 L442.27,448.15 L443.47,448.19 L444.67,448.24 L445.87,448.28 L447.06,448.33 L448.26,448.37 L449.46,448.41 L450.66,448.46 L451.86,448.50 L453.05,448.54 L454.25,448.58 L455.45,448.61 L456.65,448.65 L457.85,448.69 L459.04,448.72 L460.24,448.76 L461.44,448.79 L462.64,448.83 L463.84,448.86 L465.04,448.89 L466.23,448.92 L467.43,448.96 L468.63,448.99 L469.83,449.01 L471.03,449.04 L472.23,449.07 L473.43,449.10 L474.63,449.13 L475.82,449.15 L477.02,449.18 L478.22,449.20 L479.42,449.23 L480.62,449.25 L481.82,449.27 L483.02,449.30 L484.22,449.32 L485.42,449.34 L486.61,449.36 L487.81,449.38 L489.01,449.40 L490.21,449.42 L491.41,449.44 L492.61,449.45 L493.81,449.47 L495.01,449.49 L496.21,449.51 L497.41,449.52 L498.61,449.54 L499.81,449.55 L501.01,449.57 L502.21,449.58 L503.41,449.60 L504.61,449.61 L505.80,449.62 L507.00,449.63 L508.20,449.65 L509.40,449.66 L510.60,449.67 L511.80,449.68 L513.00,449.69 L514.20,449.70 L515.40,449.71 L516.60,449.72 L517.80,449.73 L519.00,449.74 L520.20,449.75 L521.40,449.76 L522.60,449.77 L523.80,449.78 L525.00,449.78 L526.20,449.79 L527.40,449.80 L528.60,449.81 L529.80,449.81 L531.00,449.82 L532.20,449.83 L533.40,449.83 L534.60,449.84 L535.80,449.85 L537.00,449.85 L538.20,449.86 L539.40,449.86 L540.60,449.87 L541.80,449.87 L543.00,449.88 L544.20,449.88 L545.40,449.89 L546.60,449.90 L547.80,449.90 L549.00,449.91 L550.19,449.91 L551.39,449.92 L552.59,449.92 L553.79,449.93 L554.99,449.93 L556.19,449.93 L557.39,449.94 L558.59,449.94 L559.79,449.95 L560.99,449.95 L562.19,449.96 L563.39,449.96 L564.59,449.97 L565.79,449.98 L566.99,449.98 L568.19,449.99 L569.39,449.99 L570.59,450.00 L571.79,450.00 L572.99,450.01 L574.19,450.02 L575.39,450.02 L576.59,450.03 L577.79,450.04 L578.99,450.04 L580.18,450.05 L581.38,450.06 L582.58,450.06 L583.78,450.07 L584.98,450.08 L586.18,450.09 L587.38,450.10 L588.58,450.10 L589.78,450.11 L590.98,450.12 L592.18,450.13 L593.38,450.14 L594.57,450.15 L595.77,450.16 L596.97,450.17 L598.17,450.19 L599.37,450.20 L600.57,450.21 L601.77,450.22 L602.97,450.23 L604.16,450.25 L605.36,450.26 L606.56,450.27 L607.76,450.29 L608.96,450.30 L610.16,450.32 L611.36,450.33 L612.55,450.35 L613.75,450.37 L614.95,450.38 L616.15,450.40 L617.35,450.42 L618.55,450.44 L619.74,450.46 L620.94,450.48 L622.14,450.50 L623.34,450.52 L624.54,450.54 L625.73,450.56 L626.93,450.58 L628.13,450.61 L629.33,450.63 L630.52,450.65 L631.72,450.68 L632.92,450.70 L634.12,450.73 L635.31,450.76 L636.51,450.78 L637.71,450.81 L638.91,450.84 L640.10,450.87 L641.30,450.90" stroke="#ff0000" stroke-width="2.0"/>
<path d="M48.50,452.50 L48.59,451.50 L48.67,450.49 L48.76,449.49 L48.85,448.48 L48.93,447.48 L49.02,446.47 L49.11,445.47 L49.19,444.46 L49.28,443.46 L49.37,442.45 L49.46,441.44 L49.54,440.43 L49.63,439.43 L49.72,438.42 L49.80,437.41 L49.89,436.40 L49.98,435.39 L50.06,434.38 L50.15,433.37 L50.24,432.36 L50.33,431.35 L50.41,430.34 L50.50,429.33 L50.59,428.31 L50.67,427.30 L50.76,426.29 L50.85,425.28 L50.94,424.26 L51.02,423.25 L51.11,422.24 L51.20,421.22 L51.29,420.21 L51.37,419.19 L51.46,418.18 L51.55,417.17 L51.63,416.15 L51.72,415.14 L51.81,414.12 L51.90,413.10 L51.98,412.09 L52.07,411.07 L52.16,410.06 L52.25,409.04 L52.33,408.02 L52.42,407.01 L52.51,405.99 L52.60,404.98 L52.68,403.96 L52.77,402.94 L52.86,401.92 L52.94,400.91 L53.03,399.89 L53.12,398.87 L53.21,397.86 L53.29,396.84 L53.38,395.82 L53.47,394.80 L53.56,393.78 L53.64,392.77 L53.73,391.75 L53.82,390.73 L53.91,389.71 L53.99,388.70 L54.08,387.68 L54.17,386.66 L54.26,385.64 L54.34,384.63 L54.43,383.61 L54.52,382.59 L54.60,381.57 L54.69,380.55 L54.78,379.54 L54.87,378.52 L54.95,377.50 L55.04,376.48 L55.13,375.47 L55.22,374.45 L55.30,373.43 L55.39,372.42 L55.48,371.40 L55.56,370.38 L55.65,369.37 L55.74,368.35 L55.83,367.33 L55.91,366.32 L56.00,365.30 L56.09,364.28 L56.18,363.27 L56.26,362.25 L56.35,361.24 L56.44,360.22 L56.52,359.21 L56.61,358.19 L56.70,357.18 L56.79,356.16 L56.87,355.15 L56.96,354.14 L57.05,353.12 L57.13,352.11 L57.22,351.10 L57.31,350.08 L57.39,349.07 L57.48,348.06 L57.57,347.05 L57.65,346.03 L57.74,345.02 L57.83,344.01 L57.92,343.00 L58.00,341.99 L58.09,340.98 L58.18,339.97 L58.26,338.96 L58.35,337.95 L58.44,336.94 L58.52,335.94 L58.61,334.93 L58.70,333.92 L58.78,332.91 L58.87,331.91 L58.96,330.90 L59.05,329.89 L59.14,328.89 L59.23,327.88 L59.33,326.88 L59.42,325.87 L59.52,324.87 L59.63,323.87 L59.73,322.86 L59.84,321.86 L59.96,320.86 L60.07,319.86 L60.20,318.86 L60.32,317.86 L60.45,316.86 L60.59,315.86 L60.73,314.86 L60.88,313.86 L61.04,312.86 L61.20,311.87 L61.37,310.87 L61.54,309.87 L61.73,308.88 L61.92,307.88 L62.12,306.89 L62.33,305.89 L62.54,304.90 L62.77,303.91 L63.00,302.92 L63.24,301.92 L63.50,300.93 L63.76,299.94 L64.04,298.95 L64.32,297.97 L64.62,296.98 L64.93,295.99 L65.25,295.01 L65.58,294.04 L65.93,293.07 L66.30,292.11 L66.68,291.17 L67.08,290.23 L67.50,289.32 L67.94,288.42 L68.41,287.54 L68.90,286.68 L69.43,285.84 L70.01,285.03 L70.65,284.24 L71.34,283.48 L72.10,282.77 L72.92,282.12 L73.79,281.58 L74.70,281.16 L75.64,280.86 L76.60,280.66 L77.57,280.53 L78.56,280.45 L79.56,280.39 L80.57,280.33 L81.59,280.24 L82.61,280.13 L83.64,280.01 L84.66,279.88 L85.69,279.74 L86.71,279.60 L87.74,279.45 L88.76,279.29 L89.78,279.12 L90.80,278.95 L91.81,278.76 L92.83,278.56 L93.84,278.35 L94.84,278.12 L95.84,277.88 L96.84,277.65 L97.83,277.44 L98.81,277.27 L99.79,277.17 L100.77,277.14 L101.74,277.21 L102.70,277.37 L103.66,277.59 L104.61,277.87 L105.56,278.18 L106.50,278.52 L107.43,278.89 L108.36,279.27 L109.28,279.69 L110.19,280.13 L111.10,280.59 L112.00,281.07 L112.89,281.57 L113.77,282.09 L114.65,282.64 L115.52,283.20 L116.38,283.77 L117.23,284.37 L118.07,284.98 L118.91,285.60 L119.73,286.24 L120.55,286.89 L121.36,287.56 L122.16,288.23 L122.95,288.92 L123.73,289.61 L124.49,290.31 L125.25,291.03 L126.00,291.74 L126.74,292.47 L127.47,293.20 L128.19,293.94 L128.90,294.68 L129.61,295.43 L130.30,296.18 L130.98,296.94 L131.66,297.71 L132.32,298.48 L132.98,299.25 L133.63,300.03 L134.27,300.82 L134.91,301.61 L135.54,302.40 L136.16,303.20 L136.77,304.00 L137.38,304.81 L137.98,305.62 L138.58,306.43 L139.17,307.25 L139.75,308.07 L140.33,308.90 L140.90,309.73 L141.47,310.56 L142.03,311.39 L142.59,312.23 L143.15,313.07 L143.70,313.92 L144.24,314.76 L144.78,315.61 L145.32,316.46 L145.86,317.31 L146.39,318.17 L146.92,319.02 L147.45,319.88 L147.97,320.74 L148.50,321.60 L149.02,322.46 L149.54,323.33 L150.06,324.19 L150.57,325.06 L151.09,325.92 L151.60,326.79 L152.12,327.66 L152.63,328.53 L153.15,329.39 L153.66,330.26 L154.18,331.13 L154.69,332.00 L155.21,332.87 L155.72,333.73 L156.24,334.60 L156.76,335.47 L157.28,336.33 L157.80,337.20 L158.33,338.06 L158.86,338.92 L159.39,339.78 L159.92,340.64 L160.45,341.50 L160.98,342.36 L161.52,343.22 L162.06,344.07 L162.60,344.93 L163.15,345.78 L163.69,346.63 L164.24,347.48 L164.79,348.33 L165.34,349.18 L165.90,350.03 L166.46,350.88 L167.02,351.72 L167.58,352.57 L168.14,353.41 L168.71,354.25 L169.28,355.09 L169.85,355.93 L170.43,356.77 L171.00,357.60 L171.58,358.44 L172.16,359.27 L172.75,360.10 L173.34,360.93 L173.93,361.76 L174.52,362.59 L175.11,363.41 L175.71,364.24 L176.31,365.06 L176.92,365.88 L177.52,366.70 L178.13,367.52 L178.74,368.34 L179.36,369.15 L179.98,369.96 L180.60,370.78 L181.22,371.59 L181.85,372.40 L182.48,373.20 L183.11,374.01 L183.74,374.81 L184.38,375.61 L185.02,376.41 L185.67,377.21 L186.32,378.00 L186.97,378.80 L187.62,379.59 L188.28,380.38 L188.94,381.16 L189.60,381.94 L190.27,382.72 L190.94,383.50 L191.61,384.27 L192.29,385.05 L192.97,385.81 L193.65,386.58 L194.34,387.34 L195.03,388.10 L195.72,388.85 L196.42,389.60 L197.12,390.35 L197.82,391.09 L198.53,391.83 L199.24,392.57 L199.95,393.30 L200.67,394.03 L201.39,394.75 L202.12,395.47 L202.85,396.18 L203.58,396.89 L204.32,397.60 L205.06,398.30 L205.80,398.99 L206.55,399.69 L207.30,400.37 L208.05,401.05 L208.81,401.73 L209.57,402.40 L210.34,403.06 L211.11,403.72 L211.88,404.38 L212.66,405.03 L213.44,405.67 L214.23,406.31 L215.02,406.94 L215.81,407.56 L216.61,408.18 L217.41,408.80 L218.21,409.40 L219.02,410.00 L219.84,410.60 L220.65,411.18 L221.48,411.77 L222.30,412.34 L223.13,412.91 L223.97,413.47 L224.81,414.02 L225.65,414.57 L226.50,415.11 L227.35,415.64 L228.20,416.16 L229.06,416.68 L229.93,417.19 L230.80,417.69 L231.67,418.19 L232.55,418.68 L233.43,419.16 L234.31,419.63 L235.20,420.09 L236.10,420.55 L236.99,421.00 L237.90,421.45 L238.80,421.89 L239.71,422.32 L240.62,422.74 L241.54,423.16 L242.46,423.57 L243.38,423.97 L244.31,424.37 L245.24,424.76 L246.17,425.15 L247.10,425.52 L248.04,425.90 L248.98,426.26 L249.93,426.62 L250.88,426.98 L251.83,427.33 L252.78,427.67 L253.74,428.01 L254.69,428.34 L255.66,428.67 L256.62,428.99 L257.58,429.30 L258.55,429.62 L259.52,429.92 L260.50,430.22 L261.47,430.52 L262.45,430.81 L263.43,431.09 L264.41,431.37 L265.39,431.65 L266.37,431.92 L267.36,432.19 L268.35,432.45 L269.34,432.71 L270.33,432.96 L271.32,433.21 L272.31,433.46 L273.31,433.70 L274.30,433.93 L275.30,434.17 L276.30,434.40 L277.30,434.62 L278.30,434.84 L279.30,435.06 L280.30,435.28 L281.30,435.49 L282.31,435.70 L283.31,435.90 L284.32,436.10 L285.32,436.30 L286.33,436.50 L287.33,436.69 L288.34,436.88 L289.34,437.06 L290.35,437.25 L291.36,437.43 L292.36,437.61 L293.37,437.78 L294.38,437.96 L295.38,438.13 L296.39,438.29 L297.40,438.46 L298.41,438.62 L299.41,438.78 L300.42,438.94 L301.43,439.10 L302.44,439.25 L303.44,439.40 L304.45,439.55 L305.46,439.70 L306.47,439.84 L307.47,439.98 L308.48,440.12 L309.49,440.26 L310.50,440.40 L311.51,440.53 L312.52,440.66 L313.52,440.79 L314.53,440.92 L315.54,441.05 L316.55,441.17 L317.56,441.29 L318.57,441.41 L319.58,441.53 L320.58,441.65 L321.59,441.76 L322.60,441.87 L323.61,441.98 L324.62,442.09 L325.63,442.20 L326.64,442.31 L327.65,442.41 L328.66,442.51 L329.67,442.62 L330.68,442.72 L331.69,442.81 L332.70,442.91 L333.71,443.01 L334.72,443.10 L335.73,443.19 L336.74,443.28 L337.75,443.37 L338.76,443.46 L339.77,443.55 L340.78,443.64 L341.79,443.72 L342.80,443.81 L343.81,443.89 L344.82,443.97 L345.83,444.05 L346.84,444.13 L347.86,444.21 L348.87,444.29 L349.88,444.36 L350.89,444.44 L351.90,444.51 L352.91,444.59 L353.92,444.66 L354.93,444.73 L355.95,444.80 L356.96,444.88 L357.97,444.95 L358.98,445.02 L359.99,445.08 L361.00,445.15 L362.02,445.22 L363.03,445.29 L364.04,445.35 L365.05,445.42 L366.06,445.48 L367.08,445.55 L368.09,445.61 L369.10,445.68 L370.11,445.74 L371.13,445.81 L372.14,445.87 L373.15,445.93 L374.16,445.99 L375.18,446.06 L376.19,446.12 L377.20,446.18 L378.21,446.24 L379.23,446.30 L380.24,446.36 L381.25,446.42 L382.27,446.48 L383.28,446.54 L384.29,446.60 L385.31,446.66 L386.32,446.72 L387.33,446.77 L388.35,446.83 L389.36,446.89 L390.37,446.95 L391.39,447.00 L392.40,447.06 L393.41,447.11 L394.43,447.17 L395.44,447.22 L396.45,447.28 L397.47,447.33 L398.48,447.39 L399.50,447.44 L400.51,447.49 L401.52,447.54 L402.54,447.60 L403.55,447.65 L404.57,447.70 L405.58,447.75 L406.60,447.80 L407.61,447.85 L408.62,447.90 L409.64,447.95 L410.65,448.00 L411.67,448.04 L412.68,448.09 L413.70,448.14 L414.71,448.19 L415.73,448.23 L416.74,448.28 L417.75,448.32 L418.77,448.37 L419.78,448.41 L420.80,448.46 L421.81,448.50 L422.83,448.55 L423.84,448.59 L424.86,448.63 L425.87,448.67 L426.89,448.71 L427.90,448.76 L428.92,448.80 L429.93,448.84 L430.95,448.88 L431.97,448.92 L432.98,448.95 L434.00,448.99 L435.01,449.03 L436.03,449.07 L437.04,449.10 L438.06,449.14 L439.07,449.18 L440.09,449.21 L441.10,449.25 L442.12,449.28 L443.14,449.32 L444.15,449.35 L445.17,449.38 L446.18,449.42 L447.20,449.45 L448.21,449.48 L449.23,449.51 L450.25,449.54 L451.26,449.57 L452.28,449.60 L453.29,449.63 L454.31,449.66 L455.33,449.69 L456.34,449.72 L457.36,449.75 L458.37,449.78 L459.39,449.80 L460.41,449.83 L461.42,449.86 L462.44,449.88 L463.45,449.91 L464.47,449.94 L465.49,449.96 L466.50,449.99 L467.52,450.01 L468.54,450.03 L469.55,450.06 L470.57,450.08 L471.58,450.10 L472.60,450.13 L473.62,450.15 L474.63,450.17 L475.65,450.19 L476.67,450.21 L477.68,450.24 L478.70,450.26 L479.72,450.28 L480.73,450.30 L481.75,450.32 L482.77,450.34 L483.78,450.36 L484.80,450.37 L485.82,450.39 L486.83,450.41 L487.85,450.43 L488.87,450.45 L489.88,450.46 L490.90,450.48 L491.92,450.50 L492.93,450.51 L493.95,450.53 L494.97,450.55 L495.98,450.56 L497.00,450.58 L498.02,450.59 L499.03,450.61 L500.05,450.62 L501.07,450.64 L502.08,450.65 L503.10,450.67 L504.12,450.68 L505.13,450.69 L506.15,450.71 L507.17,450.72 L508.18,450.73 L509.20,450.75 L510.22,450.76 L511.23,450.77 L512.25,450.78 L513.27,450.80 L514.29,450.81 L515.30,450.82 L516.32,450.83 L517.34,450.84 L518.35,450.85 L519.37,450.86 L520.39,450.87 L521.40,450.89 L522.42,450.90 L523.44,450.91 L524.45,450.92 L525.47,450.93 L526.49,450.94 L527.51,450.95 L528.52,450.95 L529.54,450.96 L530.56,450.97 L531.57,450.98 L532.59,450.99 L533.61,451.00 L534.62,451.01 L535.64,451.02 L536.66,451.03 L537.67,451.03 L538.69,451.04 L539.71,451.05 L540.72,451.06 L541.74,451.07 L542.76,451.08 L543.78,451.08 L544.79,451.09 L545.81,451.10 L546.83,451.11 L547.84,451.11 L548.86,451.12 L549.88,451.13 L550.89,451.14 L551.91,451.14 L552.93,451.15 L553.94,451.16 L554.96,451.16 L555.98,451.17 L556.99,451.18 L558.01,451.19 L559.03,451.19 L560.04,451.20 L561.06,451.21 L562.08,451.21 L563.09,451.22 L564.11,451.23 L565.13,451.23 L566.14,451.24 L567.16,451.25 L568.18,451.26 L569.19,451.26 L570.21,451.27 L571.23,451.28 L572.24,451.28 L573.26,451.29 L574.28,451.30 L575.29,451.30 L576.31,451.31 L577.32,451.32 L578.34,451.33 L579.36,451.33 L580.37,451.34 L581.39,451.35 L582.41,451.35 L583.42,451.36 L584.44,451.37 L585.45,451.38 L586.47,451.38 L587.49,451.39 L588.50,451.40 L589.52,451.41 L590.54,451.42 L591.55,451.42 L592.57,451.43 L593.58,451.44 L594.60,451.45 L595.62,451.46 L596.63,451.47 L597.65,451.47 L598.66,451.48 L599.68,451.49 L600.69,451.50 L601.71,451.51 L602.73,451.52 L603.74,451.53 L604.76,451.54 L605.77,451.55 L606.79,451.56 L607.80,451.57 L608.82,451.58 L609.84,451.59 L610.85,451.60 L611.87,451.61 L612.88,451.62 L613.90,451.63 L614.91,451.64 L615.93,451.65 L616.94,451.66 L617.96,451.67 L618.97,451.69 L619.99,451.70 L621.00,451.71 L622.02,451.72 L623.04,451.74 L624.05,451.75 L625.07,451.76 L626.08,451.77 L627.10,451.79 L628.11,451.80 L629.12,451.82 L630.14,451.83 L631.15,451.84 L632.17,451.86 L633.18,451.87 L634.20,451.89 L635.21,451.90 L636.23,451.92 L637.24,451.93 L638.26,451.95 L639.27,451.97 L640.29,451.98 L641.30,452.00" stroke="#ff8000" stroke-width="2.0"/>
<path d="M48.50,452.50 L58.35,393.50 L68.20,364.00 L78.05,353.50 L87.90,348.00 L97.75,345.80 L107.60,346.90 L117.45,351.50 L127.30,357.00 L137.15,363.50 L137.15,363.50 L137.67,363.93 L138.19,364.36 L138.70,364.79 L139.22,365.22 L139.73,365.66 L140.24,366.09 L140.75,366.52 L141.26,366.96 L141.77,367.39 L142.27,367.83 L142.78,368.26 L143.28,368.70 L143.78,369.14 L144.28,369.58 L144.78,370.01 L145.28,370.45 L145.78,370.89 L146.27,371.33 L146.77,371.77 L147.26,372.21 L147.75,372.65 L148.24,373.10 L148.73,373.54 L149.22,373.98 L149.71,374.42 L150.20,374.87 L150.69,375.31 L151.17,375.75 L151.66,376.20 L152.14,376.64 L152.63,377.09 L153.11,377.53 L153.59,377.98 L154.08,378.42 L154.56,378.87 L155.04,379.31 L155.52,379.76 L156.00,380.20 L156.48,380.65 L156.96,381.10 L157.44,381.54 L157.92,381.99 L158.40,382.44 L158.88,382.88 L159.36,383.33 L159.84,383.78 L160.31,384.22 L160.79,384.67 L161.27,385.12 L161.75,385.57 L162.23,386.01 L162.71,386.46 L163.19,386.91 L163.66,387.35 L164.14,387.80 L164.62,388.25 L165.10,388.69 L165.58,389.14 L166.06,389.58 L166.54,390.03 L167.02,390.47 L167.51,390.92 L167.99,391.36 L168.47,391.81 L168.95,392.25 L169.44,392.70 L169.92,393.14 L170.41,393.58 L170.89,394.02 L171.38,394.46 L171.87,394.91 L172.35,395.35 L172.84,395.79 L173.33,396.22 L173.82,396.66 L174.31,397.10 L174.81,397.54 L175.30,397.97 L175.79,398.41 L176.29,398.84 L176.79,399.28 L177.29,399.71 L177.78,400.14 L178.29,400.58 L178.79,401.01 L179.29,401.44 L179.79,401.86 L180.30,402.29 L180.81,402.72 L181.32,403.14 L181.83,403.57 L182.34,403.99 L182.85,404.41 L183.37,404.84 L183.88,405.26 L184.40,405.67 L184.92,406.09 L185.44,406.51 L185.97,406.92 L186.49,407.34 L187.02,407.75 L187.55,408.16 L188.08,408.57 L188.61,408.98 L189.14,409.38 L189.68,409.79 L190.21,410.19 L190.75,410.59 L191.29,410.99 L191.83,411.39 L192.37,411.79 L192.92,412.18 L193.46,412.58 L194.01,412.97 L194.56,413.36 L195.11,413.75 L195.66,414.13 L196.22,414.52 L196.77,414.90 L197.33,415.28 L197.89,415.66 L198.45,416.03 L199.01,416.41 L199.57,416.78 L200.13,417.15 L200.70,417.52 L201.26,417.89 L201.83,418.25 L202.40,418.61 L202.97,418.97 L203.54,419.33 L204.12,419.68 L204.69,420.03 L205.27,420.38 L205.84,420.73 L206.42,421.08 L207.00,421.42 L207.58,421.76 L208.17,422.09 L208.75,422.43 L209.33,422.76 L209.92,423.09 L210.51,423.42 L211.10,423.74 L211.68,424.06 L212.28,424.38 L212.87,424.70 L213.46,425.01 L214.06,425.32 L214.65,425.63 L215.25,425.93 L215.84,426.23 L216.44,426.53 L217.04,426.83 L217.64,427.12 L218.25,427.41 L218.85,427.69 L219.45,427.98 L220.06,428.26 L220.67,428.53 L221.27,428.80 L221.88,429.07 L222.49,429.34 L223.10,429.60 L223.71,429.86 L224.32,430.12 L224.94,430.37 L225.55,430.62 L226.17,430.87 L226.78,431.11 L227.40,431.35 L228.02,431.59 L228.64,431.82 L229.26,432.05 L229.88,432.27 L230.50,432.49 L231.12,432.71 L231.74,432.92 L232.37,433.13 L232.99,433.34 L233.62,433.54 L234.24,433.74 L234.87,433.94 L235.50,434.13 L236.13,434.32 L236.76,434.51 L237.39,434.69 L238.02,434.87 L238.65,435.05 L239.28,435.22 L239.92,435.39 L240.55,435.56 L241.18,435.73 L241.82,435.89 L242.46,436.05 L243.09,436.21 L243.73,436.36 L244.37,436.51 L245.01,436.66 L245.64,436.81 L246.28,436.95 L246.92,437.09 L247.56,437.23 L248.21,437.37 L248.85,437.50 L249.49,437.64 L250.13,437.77 L250.78,437.89 L251.42,438.02 L252.06,438.14 L252.71,438.26 L253.35,438.38 L254.00,438.50 L254.65,438.61 L255.29,438.73 L255.94,438.84 L256.59,438.95 L257.24,439.05 L257.88,439.16 L258.53,439.26 L259.18,439.36 L259.83,439.47 L260.48,439.56 L261.13,439.66 L261.78,439.76 L262.43,439.85 L263.08,439.95 L263.74,440.04 L264.39,440.13 L265.04,440.22 L265.69,440.30 L266.35,440.39 L267.00,440.48 L267.65,440.56 L268.30,440.64 L268.96,440.73 L269.61,440.81 L270.27,440.89 L270.92,440.97 L271.57,441.05 L272.23,441.13 L272.88,441.20 L273.54,441.28 L274.19,441.36 L274.85,441.43 L275.50,441.51 L276.16,441.58 L276.81,441.65 L277.47,441.73 L278.12,441.80 L278.78,441.87 L279.43,441.94 L280.09,442.02 L280.75,442.09 L281.40,442.16 L282.06,442.23 L282.71,442.30 L283.37,442.37 L284.03,442.44 L284.68,442.51 L285.34,442.58 L285.99,442.65 L286.65,442.72 L287.31,442.78 L287.96,442.85 L288.62,442.92 L289.27,442.99 L289.93,443.05 L290.59,443.12 L291.24,443.18 L291.90,443.25 L292.56,443.32 L293.21,443.38 L293.87,443.45 L294.53,443.51 L295.18,443.57 L295.84,443.64 L296.50,443.70 L297.15,443.76 L297.81,443.83 L298.47,443.89 L299.13,443.95 L299.78,444.01 L300.44,444.07 L301.10,444.13 L301.75,444.20 L302.41,444.26 L303.07,444.32 L303.73,444.38 L304.38,444.43 L305.04,444.49 L305.70,444.55 L306.36,444.61 L307.02,444.67 L307.67,444.73 L308.33,444.78 L308.99,444.84 L309.65,444.90 L310.30,444.96 L310.96,445.01 L311.62,445.07 L312.28,445.12 L312.94,445.18 L313.59,445.23 L314.25,445.29 L314.91,445.34 L315.57,445.40 L316.23,445.45 L316.89,445.50 L317.54,445.56 L318.20,445.61 L318.86,445.66 L319.52,445.71 L320.18,445.77 L320.84,445.82 L321.50,445.87 L322.15,445.92 L322.81,445.97 L323.47,446.02 L324.13,446.07 L324.79,446.12 L325.45,446.17 L326.11,446.22 L326.77,446.27 L327.43,446.32 L328.09,446.37 L328.74,446.42 L329.40,446.46 L330.06,446.51 L330.72,446.56 L331.38,446.60 L332.04,446.65 L332.70,446.70 L333.36,446.74 L334.02,446.79 L334.68,446.84 L335.34,446.88 L336.00,446.93 L336.66,446.97 L337.32,447.02 L337.98,447.06 L338.64,447.10 L339.30,447.15 L339.96,447.19 L340.62,447.23 L341.28,447.28 L341.94,447.32 L342.60,447.36 L343.26,447.40 L343.92,447.44 L344.58,447.49 L345.24,447.53 L345.90,447.57 L346.56,447.61 L347.22,447.65 L347.88,447.69 L348.54,447.73 L349.20,447.77 L349.86,447.81 L350.52,447.85 L351.18,447.89 L351.84,447.92 L352.50,447.96 L353.16,448.00 L353.82,448.04 L354.48,448.08 L355.14,448.11 L355.80,448.15 L356.46,448.19 L357.13,448.22 L357.79,448.26 L358.45,448.30 L359.11,448.33 L359.77,448.37 L360.43,448.40 L361.09,448.44 L361.75,448.47 L362.41,448.51 L363.07,448.54 L363.74,448.58 L364.40,448.61 L365.06,448.64 L365.72,448.68 L366.38,448.71 L367.04,448.74 L367.70,448.77 L368.36,448.81 L369.03,448.84 L369.69,448.87 L370.35,448.90 L371.01,448.93 L371.67,448.97 L372.33,449.00 L372.99,449.03 L373.66,449.06 L374.32,449.09 L374.98,449.12 L375.64,449.15 L376.30,449.18 L376.96,449.21 L377.63,449.24 L378.29,449.26 L378.95,449.29 L379.61,449.32 L380.27,449.35 L380.93,449.38 L381.60,449.41 L382.26,449.43 L382.92,449.46 L383.58,449.49 L384.24,449.52 L384.91,449.54 L385.57,449.57 L386.23,449.59 L386.89,449.62 L387.56,449.65 L388.22,449.67 L388.88,449.70 L389.54,449.72 L390.20,449.75 L390.87,449.77 L391.53,449.80 L392.19,449.82 L392.85,449.85 L393.52,449.87 L394.18,449.89 L394.84,449.92 L395.50,449.94 L396.17,449.96 L396.83,449.99 L397.49,450.01 L398.15,450.03 L398.82,450.05 L399.48,450.08 L400.14,450.10 L400.80,450.12 L401.47,450.14 L402.13,450.16 L402.79,450.18 L403.45,450.21 L404.12,450.23 L404.78,450.25 L405.44,450.27 L406.10,450.29 L406.77,450.31 L407.43,450.33 L408.09,450.35 L408.76,450.37 L409.42,450.39 L410.08,450.41 L410.74,450.42 L411.41,450.44 L412.07,450.46 L412.73,450.48 L413.40,450.50 L414.06,450.52 L414.72,450.53 L415.39,450.55 L416.05,450.57 L416.71,450.59 L417.37,450.60 L418.04,450.62 L418.70,450.64 L419.36,450.65 L420.03,450.67 L420.69,450.69 L421.35,450.70 L422.02,450.72 L422.68,450.74 L423.34,450.75 L424.01,450.77 L424.67,450.78 L425.33,450.80 L426.00,450.81 L426.66,450.83 L427.32,450.84 L427.99,450.86 L428.65,450.87 L429.31,450.89 L429.98,450.90 L430.64,450.91 L431.30,450.93 L431.97,450.94 L432.63,450.95 L433.29,450.97 L433.96,450.98 L434.62,450.99 L435.28,451.01 L435.95,451.02 L436.61,451.03 L437.27,451.04 L437.94,451.06 L438.60,451.07 L439.27,451.08 L439.93,451.09 L440.59,451.10 L441.26,451.11 L441.92,451.13 L442.58,451.14 L443.25,451.15 L443.91,451.16 L444.57,451.17 L445.24,451.18 L445.90,451.19 L446.57,451.20 L447.23,451.21 L447.89,451.22 L448.56,451.23 L449.22,451.24 L449.88,451.25 L450.55,451.26 L451.21,451.27 L451.87,451.28 L452.54,451.29 L453.20,451.30 L453.87,451.31 L454.53,451.32 L455.19,451.33 L455.86,451.33 L456.52,451.34 L457.19,451.35 L457.85,451.36 L458.51,451.37 L459.18,451.37 L459.84,451.38 L460.50,451.39 L461.17,451.40 L461.83,451.41 L462.50,451.41 L463.16,451.42 L463.82,451.43 L464.49,451.43 L465.15,451.44 L465.81,451.45 L466.48,451.46 L467.14,451.46 L467.81,451.47 L468.47,451.47 L469.13,451.48 L469.80,451.49 L470.46,451.49 L471.13,451.50 L471.79,451.50 L472.45,451.51 L473.12,451.52 L473.78,451.52 L474.45,451.53 L475.11,451.53 L475.77,451.54 L476.44,451.54 L477.10,451.55 L477.76,451.55 L478.43,451.56 L479.09,451.56 L479.76,451.57 L480.42,451.57 L481.08,451.58 L481.75,451.58 L482.41,451.59 L483.08,451.59 L483.74,451.59 L484.40,451.60 L485.07,451.60 L485.73,451.61 L486.40,451.61 L487.06,451.61 L487.72,451.62 L488.39,451.62 L489.05,451.62 L489.71,451.63 L490.38,451.63 L491.04,451.63 L491.71,451.64 L492.37,451.64 L493.03,451.64 L493.70,451.65 L494.36,451.65 L495.03,451.65 L495.69,451.66 L496.35,451.66 L497.02,451.66 L497.68,451.66 L498.34,451.67 L499.01,451.67 L499.67,451.67 L500.34,451.67 L501.00,451.67 L501.66,451.68 L502.33,451.68 L502.99,451.68 L503.66,451.68 L504.32,451.68 L504.98,451.69 L505.65,451.69 L506.31,451.69 L506.97,451.69 L507.64,451.69 L508.30,451.69 L508.97,451.70 L509.63,451.70 L510.29,451.70 L510.96,451.70 L511.62,451.70 L512.28,451.70 L512.95,451.70 L513.61,451.70 L514.27,451.71 L514.94,451.71 L515.60,451.71 L516.27,451.71 L516.93,451.71 L517.59,451.71 L518.26,451.71 L518.92,451.71 L519.58,451.71 L520.25,451.71 L520.91,451.71 L521.57,451.71 L522.24,451.72 L522.90,451.72 L523.56,451.72 L524.23,451.72 L524.89,451.72 L525.55,451.72 L526.22,451.72 L526.88,451.72 L527.54,451.72 L528.21,451.72 L528.87,451.72 L529.54,451.72 L530.20,451.72 L530.86,451.72 L531.53,451.72 L532.19,451.72 L532.85,451.72 L533.52,451.72 L534.18,451.72 L534.84,451.72 L535.50,451.72 L536.17,451.72 L536.83,451.72 L537.49,451.72 L538.16,451.72 L538.82,451.72 L539.48,451.72 L540.15,451.72 L540.81,451.72 L541.47,451.72 L542.14,451.72 L542.80,451.72 L543.46,451.72 L544.13,451.72 L544.79,451.72 L545.45,451.72 L546.11,451.72 L546.78,451.72 L547.44,451.72 L548.10,451.72 L548.77,451.72 L549.43,451.72 L550.09,451.72 L550.75,451.72 L551.42,451.72 L552.08,451.72 L552.74,451.71 L553.41,451.71 L554.07,451.71 L554.73,451.71 L555.39,451.71 L556.06,451.71 L556.72,451.71 L557.38,451.71 L558.04,451.71 L558.71,451.71 L559.37,451.71 L560.03,451.71 L560.69,451.71 L561.36,451.71 L562.02,451.71 L562.68,451.71 L563.34,451.71 L564.01,451.71 L564.67,451.71 L565.33,451.71 L565.99,451.71 L566.66,451.71 L567.32,451.71 L567.98,451.71 L568.64,451.71 L569.31,451.71 L569.97,451.71 L570.63,451.71 L571.29,451.71 L571.95,451.71 L572.62,451.71 L573.28,451.71 L573.94,451.71 L574.60,451.71 L575.26,451.71 L575.93,451.71 L576.59,451.71 L577.25,451.71 L577.91,451.72 L578.57,451.72 L579.24,451.72 L579.90,451.72 L580.56,451.72 L581.22,451.72 L581.88,451.72 L582.54,451.72 L583.21,451.72 L583.87,451.72 L584.53,451.72 L585.19,451.72 L585.85,451.72 L586.51,451.72 L587.18,451.73 L587.84,451.73 L588.50,451.73 L589.16,451.73 L589.82,451.73 L590.48,451.73 L591.14,451.73 L591.81,451.73 L592.47,451.74 L593.13,451.74 L593.79,451.74 L594.45,451.74 L595.11,451.74 L595.77,451.74 L596.43,451.75 L597.09,451.75 L597.76,451.75 L598.42,451.75 L599.08,451.75 L599.74,451.76 L600.40,451.76 L601.06,451.76 L601.72,451.76 L602.38,451.76 L603.04,451.77 L603.70,451.77 L604.36,451.77 L605.02,451.77 L605.68,451.78 L606.35,451.78 L607.01,451.78 L607.67,451.79 L608.33,451.79 L608.99,451.79 L609.65,451.79 L610.31,451.80 L610.97,451.80 L611.63,451.80 L612.29,451.81 L612.95,451.81 L613.61,451.82 L614.27,451.82 L614.93,451.82 L615.59,451.83 L616.25,451.83 L616.91,451.83 L617.57,451.84 L618.23,451.84 L618.89,451.85 L619.55,451.85 L620.21,451.86 L620.87,451.86 L621.53,451.86 L622.19,451.87 L622.85,451.87 L623.51,451.88 L624.17,451.88 L624.83,451.89 L625.48,451.89 L626.14,451.90 L626.80,451.91 L627.46,451.91 L628.12,451.92 L628.78,451.92 L629.44,451.93 L630.10,451.93 L630.76,451.94 L631.42,451.95 L632.08,451.95 L632.74,451.96 L633.40,451.97 L634.05,451.97 L634.71,451.98 L635.37,451.99 L636.03,451.99 L636.69,452.00 L637.35,452.01 L638.01,452.01 L638.67,452.02 L639.32,452.03 L639.98,452.04 L640.64,452.04 L641.30,452.05" stroke="#800080" stroke-width="2.0"/>
</g>
<rect x="48.5" y="9.3" width="591.0" height="443.2" fill="none" stroke="#000" stroke-opacity="0.48" stroke-width="1"/>
<path d="M48.50,452.5v-5.2M48.50,9.3v5.2M68.20,452.5v-3.3M68.20,9.3v3.3M87.90,452.5v-3.3M87.90,9.3v3.3M107.60,452.5v-3.3M107.60,9.3v3.3M127.30,452.5v-3.3M127.30,9.3v3.3M147.00,452.5v-5.2M147.00,9.3v5.2M166.70,452.5v-3.3M166.70,9.3v3.3M186.40,452.5v-3.3M186.40,9.3v3.3M206.10,452.5v-3.3M206.10,9.3v3.3M225.80,452.5v-3.3M225.80,9.3v3.3M245.50,452.5v-5.2M245.50,9.3v5.2M265.20,452.5v-3.3M265.20,9.3v3.3M284.90,452.5v-3.3M284.90,9.3v3.3M304.60,452.5v-3.3M304.60,9.3v3.3M324.30,452.5v-3.3M324.30,9.3v3.3M344.00,452.5v-5.2M344.00,9.3v5.2M363.70,452.5v-3.3M363.70,9.3v3.3M383.40,452.5v-3.3M383.40,9.3v3.3M403.10,452.5v-3.3M403.10,9.3v3.3M422.80,452.5v-3.3M422.80,9.3v3.3M442.50,452.5v-5.2M442.50,9.3v5.2M462.20,452.5v-3.3M462.20,9.3v3.3M481.90,452.5v-3.3M481.90,9.3v3.3M501.60,452.5v-3.3M501.60,9.3v3.3M521.30,452.5v-3.3M521.30,9.3v3.3M541.00,452.5v-5.2M541.00,9.3v5.2M560.70,452.5v-3.3M560.70,9.3v3.3M580.40,452.5v-3.3M580.40,9.3v3.3M600.10,452.5v-3.3M600.10,9.3v3.3M619.80,452.5v-3.3M619.80,9.3v3.3M639.50,452.5v-5.2M639.50,9.3v5.2M48.5,452.50h5.2M639.5,452.50h-5.2M48.5,430.34h3.3M639.5,430.34h-3.3M48.5,408.18h3.3M639.5,408.18h-3.3M48.5,386.02h3.3M639.5,386.02h-3.3M48.5,363.86h3.3M639.5,363.86h-3.3M48.5,341.70h5.2M639.5,341.70h-5.2M48.5,319.54h3.3M639.5,319.54h-3.3M48.5,297.38h3.3M639.5,297.38h-3.3M48.5,275.22h3.3M639.5,275.22h-3.3M48.5,253.06h3.3M639.5,253.06h-3.3M48.5,230.90h5.2M639.5,230.90h-5.2M48.5,208.74h3.3M639.5,208.74h-3.3M48.5,186.58h3.3M639.5,186.58h-3.3M48.5,164.42h3.3M639.5,164.42h-3.3M48.5,142.26h3.3M639.5,142.26h-3.3M48.5,120.10h5.2M639.5,120.10h-5.2M48.5,97.94h3.3M639.5,97.94h-3.3M48.5,75.78h3.3M639.5,75.78h-3.3M48.5,53.62h3.3M639.5,53.62h-3.3M48.5,31.46h3.3M639.5,31.46h-3.3M48.5,9.30h5.2M639.5,9.30h-5.2" fill="none" stroke="#000" stroke-opacity="0.5" stroke-width="0.9"/>
<g class="tick" text-anchor="middle">
<text x="48.5" y="471.5" textLength="29.2" lengthAdjust="spacingAndGlyphs">0.0</text>
<text x="147.0" y="471.5" textLength="29.2" lengthAdjust="spacingAndGlyphs">0.5</text>
<text x="245.5" y="471.5" textLength="29.2" lengthAdjust="spacingAndGlyphs">1.0</text>
<text x="344.0" y="471.5" textLength="29.2" lengthAdjust="spacingAndGlyphs">1.5</text>
<text x="442.5" y="471.5" textLength="29.2" lengthAdjust="spacingAndGlyphs">2.0</text>
<text x="541.0" y="471.5" textLength="29.2" lengthAdjust="spacingAndGlyphs">2.5</text>
<text x="639.5" y="471.5" textLength="29.2" lengthAdjust="spacingAndGlyphs">3.0</text>
</g>
<g class="tick" text-anchor="end">
<text x="44.5" y="457.8" textLength="10.5" lengthAdjust="spacingAndGlyphs">0</text>
<text x="44.5" y="347.0" textLength="10.5" lengthAdjust="spacingAndGlyphs">1</text>
<text x="44.5" y="236.2" textLength="10.5" lengthAdjust="spacingAndGlyphs">2</text>
<text x="44.5" y="125.4" textLength="10.5" lengthAdjust="spacingAndGlyphs">3</text>
<text x="44.5" y="14.6" textLength="10.5" lengthAdjust="spacingAndGlyphs">4</text>
</g>
<g fill="none">
<path d="M374.8,28.3H420.8" stroke="#000" stroke-width="2.3" stroke-dasharray="7.5 2.1"/>
<path d="M374.8,52.9H423.0" stroke="#0000ff" stroke-width="2.0"/>
<path d="M374.8,77.6H423.0" stroke="#ff0000" stroke-width="2.0"/>
<path d="M374.8,102.3H423.0" stroke="#ff8000" stroke-width="2.0"/>
<path d="M374.8,127.0H423.0" stroke="#800080" stroke-width="2.0"/>
</g>
<g class="leg">
<text x="430" y="32.5" textLength="85.3" lengthAdjust="spacingAndGlyphs">Perturbative</text><text x="520.3" y="32.5" textLength="27.4" lengthAdjust="spacingAndGlyphs">U(1)</text>
<text x="429.6" y="57.1" textLength="112.6" lengthAdjust="spacingAndGlyphs">Nonperturbative</text><text x="544.4" y="57.1" textLength="42.0" lengthAdjust="spacingAndGlyphs">SU(3):</text><text x="588.7" y="57.1" textLength="36.3" lengthAdjust="spacingAndGlyphs">x=0.1</text>
<text x="429.6" y="81.8" textLength="112.6" lengthAdjust="spacingAndGlyphs">Nonperturbative</text><text x="544.4" y="81.8" textLength="42.0" lengthAdjust="spacingAndGlyphs">SU(3):</text><text x="588.7" y="81.8" textLength="36.3" lengthAdjust="spacingAndGlyphs">x=0.3</text>
<text x="429.6" y="106.5" textLength="112.6" lengthAdjust="spacingAndGlyphs">Nonperturbative</text><text x="544.4" y="106.5" textLength="42.0" lengthAdjust="spacingAndGlyphs">SU(3):</text><text x="588.7" y="106.5" textLength="36.3" lengthAdjust="spacingAndGlyphs">x=0.5</text>
<text x="429.6" y="131.2" textLength="112.6" lengthAdjust="spacingAndGlyphs">Nonperturbative</text><text x="544.4" y="131.2" textLength="42.0" lengthAdjust="spacingAndGlyphs">SU(3):</text><text x="588.7" y="131.2" textLength="36.3" lengthAdjust="spacingAndGlyphs">x=0.7</text>
</g>
<g class="ax">
<text class="it" x="304.6" y="502.6">q</text><text x="330.9" y="502.6" textLength="53" lengthAdjust="spacingAndGlyphs">[GeV]</text>
<path d="M315.8,505.90000000000003h8.7M320.15000000000003,505.90000000000003v-6.699999999999999" fill="none" stroke="#000" stroke-width="1.8"/>
</g>
<g class="ax" transform="translate(19.8,312.6) rotate(-90)">
<text x="0.2" y="0" textLength="6.4" lengthAdjust="spacingAndGlyphs">i</text><text x="10.0" y="0" textLength="38.2" lengthAdjust="spacingAndGlyphs">G(x,</text><text class="it" x="55.0" y="0">q</text><text x="76.6" y="0">)</text><text x="90.3" y="0" textLength="49.9" lengthAdjust="spacingAndGlyphs">[GeV</text><text class="sup" x="140.6" y="-8.5" textLength="14.4" lengthAdjust="spacingAndGlyphs">−2</text><text x="156.2" y="0">]</text>
<path d="M66.8,3.5000000000000004h8.7M71.14999999999999,3.5000000000000004v-6.699999999999999" fill="none" stroke="#000" stroke-width="1.8"/>
</g>
</svg>
</body>
</html>
